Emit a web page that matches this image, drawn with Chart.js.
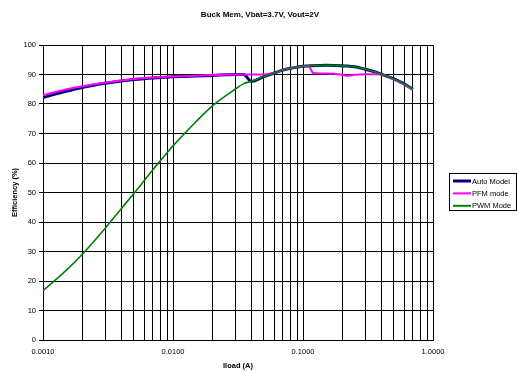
<!DOCTYPE html>
<html>
<head>
<meta charset="utf-8">
<script src="https://cdn.jsdelivr.net/npm/chart.js@4/dist/chart.umd.min.js"></script>
<style>
  html, body { margin: 0; padding: 0; background: #ffffff; }
  #wrap { width: 518px; height: 372px; }
</style>
</head>
<body>
<div id="wrap"><canvas id="c" width="518" height="372"></canvas></div>
<script>
// ---- data ----
const chartTitle = 'Buck Mem, Vbat=3.7V, Vout=2V';
const xTitle = 'Iload (A)';
const yTitle = 'Efficiency (%)';
const seriesNames = ['Auto Model', 'PFM mode', 'PWM Mode'];

const iload = [0.001, 0.0015, 0.002, 0.003, 0.004, 0.005, 0.006, 0.007, 0.008, 0.009,
               0.01, 0.015, 0.02, 0.03, 0.035, 0.04, 0.05, 0.06, 0.07, 0.08, 0.09,
               0.1, 0.11, 0.12, 0.15, 0.2, 0.22, 0.25, 0.3, 0.35, 0.4, 0.5, 0.6, 0.7];

const autoModel = [82.2, 84.3, 85.6, 87.0, 87.8, 88.3, 88.6, 88.8, 89.0, 89.1,
                   89.2, 89.5, 89.7, 90.0, 90.0, 87.7, 89.3, 90.5, 91.5, 92.1, 92.5,
                   92.8, 92.9, 93.0, 93.1, 93.0, 92.9, 92.6, 91.8, 91.0, 90.1, 88.5, 86.8, 85.0];

const pfmMode = [83.0, 84.9, 86.0, 87.2, 88.0, 88.5, 88.8, 89.0, 89.1, 89.2,
                 89.3, 89.6, 89.8, 90.0, 90.0, 90.0, 90.0, 90.5, 91.5, 92.1, 92.5,
                 92.8, 92.9, 90.5, 90.3, 89.9, 89.6, 89.9, 90.1, 90.1, 90.0, 88.3, 86.6, 84.9];

const pwmMode = [16.7, 23.5, 29.0, 37.8, 44.5, 49.7, 54.0, 57.7, 60.8, 63.5,
                 65.8, 74.0, 79.3, 85.0, 86.9, 87.7, 89.3, 90.5, 91.5, 92.1, 92.5,
                 92.8, 92.9, 93.0, 93.1, 93.0, 92.9, 92.6, 91.8, 91.0, 90.1, 88.5, 86.8, 85.0];

const xTickLabels = ['0.0010', '0.0100', '0.1000', '1.0000'];
const xDecades = [0.001, 0.01, 0.1, 1];
const yMin = 0, yMax = 100, yStep = 10;

const colors = ['#000080', '#ff00ff', '#008000'];
const widths = [3, 2, 1.6];
const FONT = '"Liberation Sans", Arial, sans-serif';

// grid positions: 1..9 multiples of each decade
const xGrid = [];
for (let d = 0; d < xDecades.length - 1; d++) {
  for (let m = 1; m <= 9; m++) xGrid.push(+(xDecades[d] * m).toPrecision(6));
}
xGrid.push(xDecades[xDecades.length - 1]);

const toPts = (ys) => iload.map((x, i) => ({ x: x, y: ys[i] }));

const titlePlugin = {
  id: 'topTitle',
  afterDraw(chart) {
    const ctx = chart.ctx;
    ctx.save();
    ctx.font = 'bold 8px ' + FONT;
    ctx.fillStyle = '#000';
    ctx.textAlign = 'center';
    ctx.textBaseline = 'middle';
    ctx.fillText(chartTitle, 260, 15);
    ctx.restore();
  }
};

const legendPlugin = {
  id: 'boxLegend',
  afterDraw(chart) {
    const ctx = chart.ctx;
    const bx = 449.5, by = 173.5, bw = 67, bh = 37;
    ctx.save();
    ctx.fillStyle = '#fff';
    ctx.fillRect(bx, by, bw, bh);
    ctx.strokeStyle = '#000';
    ctx.lineWidth = 1;
    ctx.strokeRect(bx, by, bw, bh);
    ctx.font = '7.5px ' + FONT;
    ctx.textBaseline = 'middle';
    ctx.textAlign = 'left';
    chart.data.datasets.forEach((ds, i) => {
      const y = 181 + i * 12.4;
      ctx.strokeStyle = ds.borderColor;
      ctx.lineWidth = i === 0 ? 3 : 2;
      ctx.beginPath();
      ctx.moveTo(453, y);
      ctx.lineTo(471, y);
      ctx.stroke();
      ctx.fillStyle = '#000';
      ctx.fillText(ds.label, 472, y + 0.5);
    });
    ctx.restore();
  }
};

const bgPlugin = {
  id: 'bg',
  beforeDraw(chart) {
    const ctx = chart.ctx;
    ctx.save();
    ctx.fillStyle = '#fff';
    ctx.fillRect(0, 0, chart.width, chart.height);
    ctx.restore();
  }
};

new Chart(document.getElementById('c'), {
  type: 'line',
  data: {
    datasets: [
      { label: seriesNames[0], data: toPts(autoModel), borderColor: colors[0], backgroundColor: colors[0],
        borderWidth: widths[0], pointRadius: 0, cubicInterpolationMode: 'monotone', order: 2 },
      { label: seriesNames[1], data: toPts(pfmMode), borderColor: colors[1], backgroundColor: colors[1],
        borderWidth: widths[1], pointRadius: 0, cubicInterpolationMode: 'monotone', order: 1 },
      { label: seriesNames[2], data: toPts(pwmMode), borderColor: colors[2], backgroundColor: colors[2],
        borderWidth: widths[2], pointRadius: 0, cubicInterpolationMode: 'monotone', order: 0 }
    ]
  },
  options: {
    responsive: false,
    animation: false,
    devicePixelRatio: 1,
    layout: { padding: { top: 45, right: 85, left: 0, bottom: 0 } },
    plugins: {
      legend: { display: false },
      title: { display: false },
      tooltip: { enabled: false }
    },
    scales: {
      x: {
        type: 'logarithmic',
        min: xDecades[0],
        max: xDecades[xDecades.length - 1],
        afterBuildTicks(scale) { scale.ticks = xGrid.map(v => ({ value: v })); },
        afterFit(scale) { scale.height = 32; },
        ticks: {
          autoSkip: false, maxRotation: 0, minRotation: 0, padding: 7,
          color: '#000', font: { family: FONT, size: 7.5 },
          callback(value) {
            const idx = xDecades.findIndex(d => Math.abs(d - value) / d < 1e-6);
            return idx >= 0 ? xTickLabels[idx] : '';
          }
        },
        grid: { color: '#000', lineWidth: 1, drawTicks: false },
        border: { color: '#000', width: 1 },
        title: { display: true, text: xTitle, color: '#000',
                 font: { family: FONT, size: 7.5, weight: 'bold' }, padding: { top: 0, bottom: 1.5 } }
      },
      y: {
        type: 'linear',
        min: yMin, max: yMax,
        afterFit(scale) { scale.width = 43; },
        ticks: { stepSize: yStep, padding: 3, color: '#000', font: { family: FONT, size: 7.5 } },
        grid: { color: '#000', lineWidth: 1, drawTicks: true, tickLength: 4, tickColor: '#000' },
        border: { color: '#000', width: 1 },
        title: { display: true, text: yTitle, color: '#000',
                 font: { family: FONT, size: 7.5, weight: 'bold' }, padding: { top: 10.5, bottom: 0 } }
      }
    }
  },
  plugins: [bgPlugin, titlePlugin, legendPlugin]
});
</script>
</body>
</html>
